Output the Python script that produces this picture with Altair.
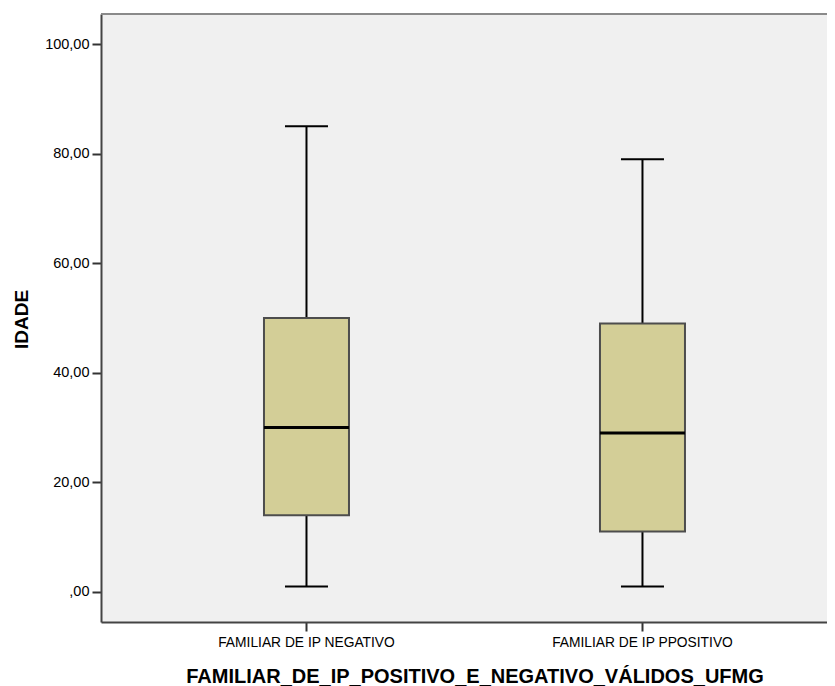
import altair as alt
import pandas as pd

categories = ["FAMILIAR DE IP NEGATIVO", "FAMILIAR DE IP PPOSITIVO"]
mins = [1, 1]
q1s = [14, 11]
medians = [30, 29]
q3s = [50, 49]
maxs = [85, 79]
y_ticks = [0, 20, 40, 60, 80, 100]

df = pd.DataFrame({
    "cat": categories,
    "min": mins,
    "q1": q1s,
    "median": medians,
    "q3": q3s,
    "max": maxs,
})

W, H = 726, 608
FONT = "Arial"

xscale = alt.Scale(type="band", domain=categories, paddingInner=0, paddingOuter=0.0804, align=0.694)
yscale = alt.Scale(domain=[-5.5, 105.5], nice=False, zero=False)

xaxis = alt.Axis(
    title="FAMILIAR_DE_IP_POSITIVO_E_NEGATIVO_VÁLIDOS_UFMG",
    titleFont=FONT, titleFontSize=20, titleFontWeight="bold", titleColor="#000000",
    titleX=373.5, titleY=60, titleBaseline="alphabetic", titleAlign="center",
    labelFont=FONT, labelFontSize=13.8, labelColor="#000000", labelAngle=0,
    labelPadding=4, labelLimit=0, tickSize=9, tickColor="#333333", tickWidth=2,
    domainColor="#444444", domainWidth=2, grid=False,
)
yaxis = alt.Axis(
    title="IDADE",
    titleFont=FONT, titleFontSize=19, titleFontWeight="bold", titleColor="#000000",
    titleX=-74, titleY=305, titleBaseline="alphabetic", titleAngle=270,
    labelFont=FONT, labelFontSize=14.5, labelColor="#000000",
    labelPadding=3, tickSize=9, tickColor="#333333", tickWidth=2,
    domainColor="#444444", domainWidth=2, grid=False,
    values=y_ticks,
    labelExpr="datum.value == 0 ? ',00' : replace(format(datum.value, '.2f'), '.', ',')",
)

base = alt.Chart(df)
xenc = alt.X("cat:N", sort=categories, scale=xscale, axis=xaxis)

whisker = base.mark_rule(color="#000000", strokeWidth=2, opacity=1).encode(
    x=xenc, y=alt.Y("min:Q", scale=yscale, axis=yaxis), y2="max:Q"
)
box = base.mark_bar(size=85, fill="#D3CE97", stroke="#4d4d4d", strokeWidth=2, opacity=1).encode(
    x=xenc, y=alt.Y("q1:Q", scale=yscale), y2="q3:Q"
)
cap_lo = base.mark_tick(size=43, thickness=2, color="#000000", opacity=1).encode(
    x=xenc, y=alt.Y("min:Q", scale=yscale)
)
cap_hi = base.mark_tick(size=43, thickness=2, color="#000000", opacity=1).encode(
    x=xenc, y=alt.Y("max:Q", scale=yscale)
)
med = base.mark_tick(size=85, thickness=3, color="#000000", opacity=1).encode(
    x=xenc, y=alt.Y("median:Q", scale=yscale)
)
top_border = alt.Chart(df).mark_rule(color="#8a8a8a", strokeWidth=2).encode(
    x=alt.value(0), x2=alt.value(W), y=alt.value(0)
)

chart = alt.layer(whisker, box, cap_lo, cap_hi, med, top_border).properties(
    width=W, height=H,
    autosize=alt.AutoSizeParams(type="none"),
    padding={"left": 93, "top": 6, "right": 0, "bottom": 64},
    background="#ffffff",
).configure_view(fill="#F0F0F0", stroke="transparent")

chart.save("out.html", embed_options={"renderer": "svg", "actions": False})
